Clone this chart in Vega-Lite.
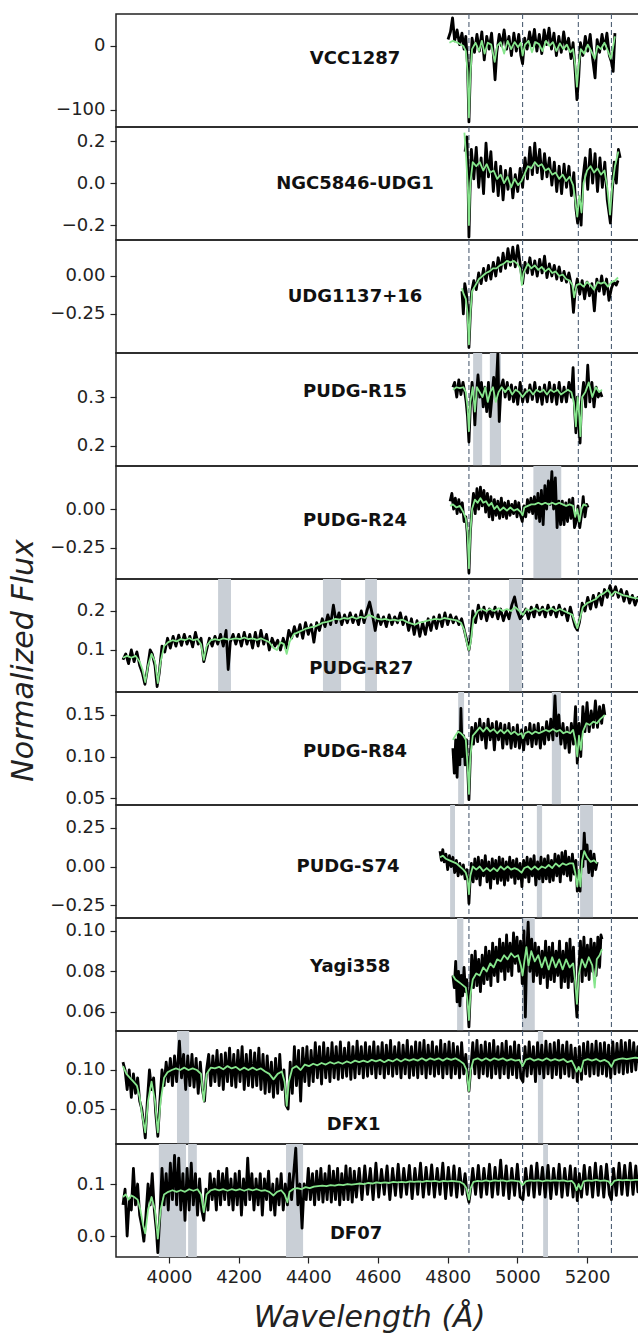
{
"$schema":"https://vega.github.io/schema/vega-lite/v6.json",
"autosize":{"type":"pad"},
"padding":{"left":7,"top":12,"right":-3,"bottom":0},
"background":"white",
"spacing":0,
"bounds":"flush",
"config":{
"view":{"stroke":"#222","strokeWidth":1.5},
"axis":{"domain":false,"grid":false,"ticks":true,"tickColor":"#222","tickSize":6,"tickWidth":1.2,"labelFont":"DejaVu Sans","labelFontSize":18,"labelColor":"#222","labelPadding":5,"labelFlush":false,"labelOverlap":false,"titleFont":"DejaVu Sans","titleFontSize":30,"titleFontWeight":"normal","titleFontStyle":"italic","titleColor":"#222"},
"text":{"font":"DejaVu Sans"}
},
"datasets":{
"lines":[{"w":4861},{"w":5015},{"w":5175},{"w":5270}],
"bands":[{"p":4,"w":4873,"w2":4899},{"p":4,"w":4921,"w2":4953},{"p":5,"w":5046,"w2":5126},{"p":6,"w":4141,"w2":4178},{"p":6,"w":4442,"w2":4494},{"p":6,"w":4563,"w2":4597},{"p":6,"w":4976,"w2":5013},{"p":7,"w":4830,"w2":4847},{"p":7,"w":5099,"w2":5125},{"p":8,"w":4807,"w2":4821},{"p":8,"w":5056,"w2":5071},{"p":8,"w":5180,"w2":5217},{"p":9,"w":4827,"w2":4845},{"p":9,"w":5013,"w2":5050},{"p":10,"w":4023,"w2":4058},{"p":10,"w":5059,"w2":5074},{"p":11,"w":3971,"w2":4049},{"p":11,"w":4055,"w2":4080},{"p":11,"w":4336,"w2":4385},{"p":11,"w":5074,"w2":5088}],
"t1":[{"w":4534,"f":-20,"t":"VCC1287"}],
"t2":[{"w":4534,"f":-0.004,"t":"NGC5846-UDG1"}],
"t3":[{"w":4534,"f":-0.138,"t":"UDG1137+16"}],
"t4":[{"w":4534,"f":0.31,"t":"PUDG-R15"}],
"t5":[{"w":4534,"f":-0.077,"t":"PUDG-R24"}],
"t6":[{"w":4552,"f":0.0525,"t":"PUDG-R27"}],
"t7":[{"w":4534,"f":0.1054,"t":"PUDG-R84"}],
"t8":[{"w":4514,"f":-0.004,"t":"PUDG-S74"}],
"t9":[{"w":4520,"f":0.0822,"t":"Yagi358"}],
"t10":[{"w":4530,"f":0.029,"t":"DFX1"}],
"t11":[{"w":4537,"f":0.003,"t":"DF07"}],
"o1":[{"w":4801,"f":10},{"w":4808,"f":22},{"w":4814,"f":44},{"w":4820,"f":8},{"w":4827,"f":25},{"w":4834,"f":2},{"w":4841,"f":20},{"w":4847,"f":-5},{"w":4852,"f":15},{"w":4857,"f":-30},{"w":4861,"f":-119},{"w":4865,"f":-40},{"w":4870,"f":12},{"w":4877,"f":-10},{"w":4884,"f":18},{"w":4891,"f":-8},{"w":4898,"f":22},{"w":4905,"f":-22},{"w":4912,"f":15},{"w":4919,"f":-5},{"w":4926,"f":20},{"w":4932,"f":-20},{"w":4936,"f":-53},{"w":4941,"f":-10},{"w":4948,"f":18},{"w":4955,"f":0},{"w":4962,"f":25},{"w":4969,"f":-5},{"w":4976,"f":15},{"w":4983,"f":-15},{"w":4990,"f":20},{"w":4997,"f":-8},{"w":5004,"f":18},{"w":5010,"f":-15},{"w":5015,"f":-28},{"w":5021,"f":12},{"w":5028,"f":-5},{"w":5035,"f":22},{"w":5042,"f":0},{"w":5049,"f":26},{"w":5056,"f":-8},{"w":5063,"f":18},{"w":5070,"f":-12},{"w":5077,"f":25},{"w":5084,"f":2},{"w":5091,"f":28},{"w":5098,"f":-5},{"w":5105,"f":20},{"w":5112,"f":-15},{"w":5119,"f":15},{"w":5126,"f":-10},{"w":5133,"f":22},{"w":5140,"f":-5},{"w":5147,"f":12},{"w":5154,"f":-20},{"w":5160,"f":5},{"w":5166,"f":-40},{"w":5171,"f":-84},{"w":5176,"f":-50},{"w":5181,"f":5},{"w":5188,"f":-15},{"w":5195,"f":15},{"w":5202,"f":-8},{"w":5209,"f":18},{"w":5216,"f":-20},{"w":5223,"f":-50},{"w":5229,"f":10},{"w":5236,"f":-10},{"w":5243,"f":18},{"w":5250,"f":-5},{"w":5257,"f":20},{"w":5264,"f":-15},{"w":5270,"f":-25},{"w":5275,"f":-40},{"w":5280,"f":20}],
"g1":[{"w":4805,"f":5},{"w":4815,"f":8},{"w":4825,"f":6},{"w":4835,"f":3},{"w":4845,"f":0},{"w":4852,"f":-8},{"w":4857,"f":-40},{"w":4861,"f":-112},{"w":4865,"f":-45},{"w":4870,"f":-5},{"w":4880,"f":5},{"w":4890,"f":-8},{"w":4898,"f":8},{"w":4906,"f":-12},{"w":4915,"f":5},{"w":4925,"f":2},{"w":4935,"f":-25},{"w":4942,"f":0},{"w":4952,"f":6},{"w":4962,"f":-12},{"w":4972,"f":8},{"w":4982,"f":-5},{"w":4992,"f":6},{"w":5002,"f":-2},{"w":5010,"f":5},{"w":5015,"f":-15},{"w":5022,"f":2},{"w":5032,"f":8},{"w":5042,"f":-10},{"w":5052,"f":6},{"w":5062,"f":3},{"w":5072,"f":-8},{"w":5082,"f":8},{"w":5092,"f":0},{"w":5102,"f":6},{"w":5112,"f":-8},{"w":5122,"f":4},{"w":5132,"f":-5},{"w":5142,"f":2},{"w":5152,"f":-10},{"w":5160,"f":-5},{"w":5166,"f":-30},{"w":5171,"f":-64},{"w":5176,"f":-30},{"w":5182,"f":-5},{"w":5192,"f":-12},{"w":5202,"f":2},{"w":5212,"f":-8},{"w":5222,"f":-20},{"w":5230,"f":0},{"w":5240,"f":-5},{"w":5250,"f":5},{"w":5260,"f":-8},{"w":5268,"f":-20},{"w":5272,"f":-10},{"w":5280,"f":15}],
"o2":[{"w":4850,"f":0.15},{"w":4855,"f":0.22},{"w":4858,"f":0.05},{"w":4861,"f":-0.257},{"w":4864,"f":-0.05},{"w":4868,"f":0.16},{"w":4875,"f":0.02},{"w":4882,"f":0.17},{"w":4889,"f":-0.02},{"w":4896,"f":0.12},{"w":4903,"f":-0.05},{"w":4910,"f":0.19},{"w":4917,"f":0.03},{"w":4924,"f":0.15},{"w":4931,"f":-0.04},{"w":4938,"f":0.1},{"w":4945,"f":-0.06},{"w":4952,"f":0.08},{"w":4959,"f":-0.08},{"w":4966,"f":0.06},{"w":4973,"f":-0.03},{"w":4980,"f":0.07},{"w":4987,"f":-0.07},{"w":4994,"f":0.04},{"w":5001,"f":-0.04},{"w":5008,"f":0.07},{"w":5015,"f":-0.02},{"w":5022,"f":0.12},{"w":5029,"f":0.02},{"w":5036,"f":0.17},{"w":5043,"f":0.04},{"w":5050,"f":0.19},{"w":5057,"f":0.05},{"w":5064,"f":0.16},{"w":5071,"f":0.02},{"w":5078,"f":0.14},{"w":5085,"f":0.03},{"w":5092,"f":0.12},{"w":5099,"f":-0.01},{"w":5106,"f":0.1},{"w":5113,"f":-0.04},{"w":5120,"f":0.08},{"w":5127,"f":-0.05},{"w":5134,"f":0.09},{"w":5141,"f":-0.02},{"w":5148,"f":0.08},{"w":5155,"f":-0.06},{"w":5162,"f":0.05},{"w":5168,"f":-0.12},{"w":5173,"f":-0.19},{"w":5178,"f":-0.08},{"w":5183,"f":-0.2},{"w":5188,"f":0.02},{"w":5195,"f":0.12},{"w":5202,"f":-0.03},{"w":5209,"f":0.16},{"w":5216,"f":0.0},{"w":5223,"f":0.14},{"w":5230,"f":-0.04},{"w":5237,"f":0.12},{"w":5244,"f":-0.02},{"w":5251,"f":0.1},{"w":5258,"f":-0.08},{"w":5263,"f":-0.14},{"w":5267,"f":-0.19},{"w":5272,"f":-0.05},{"w":5278,"f":0.1},{"w":5284,"f":0.0},{"w":5290,"f":0.16},{"w":5295,"f":0.12}],
"g2":[{"w":4848,"f":0.24},{"w":4853,"f":0.12},{"w":4858,"f":-0.02},{"w":4861,"f":-0.2},{"w":4865,"f":0.0},{"w":4872,"f":0.1},{"w":4882,"f":0.08},{"w":4892,"f":0.1},{"w":4902,"f":0.06},{"w":4912,"f":0.09},{"w":4922,"f":0.05},{"w":4932,"f":0.06},{"w":4942,"f":0.02},{"w":4952,"f":0.04},{"w":4962,"f":0.0},{"w":4972,"f":0.03},{"w":4982,"f":-0.02},{"w":4992,"f":0.02},{"w":5002,"f":-0.01},{"w":5012,"f":0.01},{"w":5020,"f":0.04},{"w":5030,"f":0.08},{"w":5040,"f":0.07},{"w":5050,"f":0.1},{"w":5060,"f":0.08},{"w":5070,"f":0.09},{"w":5080,"f":0.06},{"w":5090,"f":0.07},{"w":5100,"f":0.04},{"w":5110,"f":0.05},{"w":5120,"f":0.02},{"w":5130,"f":0.04},{"w":5140,"f":0.01},{"w":5150,"f":0.03},{"w":5160,"f":-0.01},{"w":5166,"f":-0.08},{"w":5172,"f":-0.16},{"w":5178,"f":-0.06},{"w":5184,"f":-0.14},{"w":5190,"f":0.0},{"w":5200,"f":0.06},{"w":5210,"f":0.08},{"w":5220,"f":0.05},{"w":5230,"f":0.07},{"w":5240,"f":0.04},{"w":5250,"f":0.06},{"w":5258,"f":-0.02},{"w":5266,"f":-0.15},{"w":5272,"f":-0.02},{"w":5280,"f":0.08},{"w":5290,"f":0.15}],
"o3":[{"w":4841,"f":-0.1},{"w":4845,"f":-0.25},{"w":4849,"f":-0.05},{"w":4853,"f":-0.1},{"w":4857,"f":-0.2},{"w":4861,"f":-0.47},{"w":4865,"f":-0.25},{"w":4869,"f":-0.1},{"w":4875,"f":-0.03},{"w":4882,"f":-0.09},{"w":4889,"f":0.02},{"w":4896,"f":-0.05},{"w":4903,"f":0.05},{"w":4910,"f":-0.03},{"w":4917,"f":0.07},{"w":4924,"f":-0.02},{"w":4931,"f":0.09},{"w":4938,"f":0.0},{"w":4945,"f":0.12},{"w":4952,"f":0.03},{"w":4959,"f":0.15},{"w":4966,"f":0.05},{"w":4973,"f":0.18},{"w":4980,"f":0.07},{"w":4987,"f":0.19},{"w":4994,"f":0.06},{"w":5001,"f":0.2},{"w":5008,"f":0.08},{"w":5015,"f":-0.05},{"w":5022,"f":0.09},{"w":5029,"f":0.02},{"w":5036,"f":0.12},{"w":5043,"f":0.01},{"w":5050,"f":0.1},{"w":5057,"f":0.0},{"w":5064,"f":0.11},{"w":5071,"f":0.02},{"w":5078,"f":0.13},{"w":5085,"f":-0.01},{"w":5092,"f":0.08},{"w":5099,"f":0.0},{"w":5106,"f":0.07},{"w":5113,"f":-0.02},{"w":5120,"f":0.06},{"w":5127,"f":-0.03},{"w":5134,"f":0.03},{"w":5141,"f":-0.04},{"w":5148,"f":0.02},{"w":5155,"f":-0.06},{"w":5161,"f":-0.24},{"w":5166,"f":-0.1},{"w":5172,"f":-0.02},{"w":5179,"f":-0.12},{"w":5186,"f":-0.03},{"w":5193,"f":-0.15},{"w":5200,"f":-0.04},{"w":5207,"f":-0.13},{"w":5214,"f":-0.05},{"w":5221,"f":-0.23},{"w":5228,"f":-0.02},{"w":5235,"f":-0.1},{"w":5242,"f":0.0},{"w":5249,"f":-0.12},{"w":5256,"f":-0.02},{"w":5263,"f":-0.16},{"w":5270,"f":-0.08},{"w":5277,"f":-0.04},{"w":5284,"f":-0.06},{"w":5289,"f":-0.03}],
"g3":[{"w":4841,"f":-0.08},{"w":4846,"f":-0.12},{"w":4852,"f":-0.15},{"w":4857,"f":-0.25},{"w":4861,"f":-0.45},{"w":4865,"f":-0.25},{"w":4870,"f":-0.1},{"w":4880,"f":-0.06},{"w":4890,"f":-0.02},{"w":4900,"f":0.0},{"w":4910,"f":0.02},{"w":4920,"f":0.03},{"w":4930,"f":0.05},{"w":4940,"f":0.05},{"w":4950,"f":0.07},{"w":4960,"f":0.08},{"w":4970,"f":0.1},{"w":4980,"f":0.09},{"w":4990,"f":0.1},{"w":5000,"f":0.08},{"w":5008,"f":0.05},{"w":5013,"f":-0.06},{"w":5018,"f":0.02},{"w":5030,"f":0.08},{"w":5040,"f":0.05},{"w":5050,"f":0.07},{"w":5060,"f":0.04},{"w":5070,"f":0.06},{"w":5080,"f":0.03},{"w":5090,"f":0.05},{"w":5100,"f":0.02},{"w":5110,"f":0.03},{"w":5120,"f":0.0},{"w":5130,"f":0.01},{"w":5140,"f":-0.02},{"w":5150,"f":-0.03},{"w":5158,"f":-0.06},{"w":5163,"f":-0.14},{"w":5170,"f":-0.06},{"w":5180,"f":-0.05},{"w":5190,"f":-0.07},{"w":5200,"f":-0.04},{"w":5210,"f":-0.06},{"w":5220,"f":-0.09},{"w":5230,"f":-0.04},{"w":5240,"f":-0.05},{"w":5250,"f":-0.04},{"w":5260,"f":-0.07},{"w":5270,"f":-0.04},{"w":5280,"f":-0.03},{"w":5289,"f":-0.01}],
"o4":[{"w":4815,"f":0.32},{"w":4820,"f":0.33},{"w":4826,"f":0.3},{"w":4832,"f":0.335},{"w":4838,"f":0.305},{"w":4844,"f":0.33},{"w":4849,"f":0.31},{"w":4853,"f":0.29},{"w":4857,"f":0.26},{"w":4861,"f":0.208},{"w":4865,"f":0.28},{"w":4870,"f":0.33},{"w":4874,"f":0.3},{"w":4878,"f":0.243},{"w":4882,"f":0.3},{"w":4887,"f":0.345},{"w":4892,"f":0.3},{"w":4897,"f":0.33},{"w":4902,"f":0.28},{"w":4907,"f":0.32},{"w":4912,"f":0.27},{"w":4917,"f":0.33},{"w":4922,"f":0.26},{"w":4927,"f":0.3},{"w":4932,"f":0.34},{"w":4938,"f":0.3},{"w":4944,"f":0.39},{"w":4948,"f":0.25},{"w":4953,"f":0.32},{"w":4959,"f":0.335},{"w":4965,"f":0.3},{"w":4971,"f":0.33},{"w":4977,"f":0.295},{"w":4983,"f":0.325},{"w":4989,"f":0.29},{"w":4995,"f":0.32},{"w":5001,"f":0.285},{"w":5008,"f":0.33},{"w":5015,"f":0.29},{"w":5022,"f":0.315},{"w":5029,"f":0.29},{"w":5036,"f":0.325},{"w":5043,"f":0.295},{"w":5050,"f":0.33},{"w":5057,"f":0.29},{"w":5064,"f":0.32},{"w":5071,"f":0.285},{"w":5078,"f":0.325},{"w":5085,"f":0.29},{"w":5092,"f":0.33},{"w":5099,"f":0.29},{"w":5106,"f":0.325},{"w":5113,"f":0.285},{"w":5120,"f":0.33},{"w":5127,"f":0.29},{"w":5134,"f":0.32},{"w":5141,"f":0.29},{"w":5148,"f":0.33},{"w":5155,"f":0.3},{"w":5160,"f":0.36},{"w":5164,"f":0.28},{"w":5168,"f":0.227},{"w":5172,"f":0.3},{"w":5176,"f":0.25},{"w":5180,"f":0.206},{"w":5184,"f":0.29},{"w":5190,"f":0.33},{"w":5196,"f":0.28},{"w":5202,"f":0.365},{"w":5208,"f":0.29},{"w":5214,"f":0.33},{"w":5220,"f":0.28},{"w":5226,"f":0.32},{"w":5232,"f":0.3},{"w":5238,"f":0.31},{"w":5243,"f":0.3}],
"g4":[{"w":4815,"f":0.315},{"w":4825,"f":0.32},{"w":4835,"f":0.318},{"w":4845,"f":0.32},{"w":4852,"f":0.31},{"w":4857,"f":0.28},{"w":4861,"f":0.23},{"w":4865,"f":0.29},{"w":4872,"f":0.32},{"w":4878,"f":0.27},{"w":4884,"f":0.32},{"w":4892,"f":0.31},{"w":4900,"f":0.3},{"w":4908,"f":0.32},{"w":4915,"f":0.29},{"w":4922,"f":0.31},{"w":4930,"f":0.32},{"w":4938,"f":0.29},{"w":4946,"f":0.31},{"w":4955,"f":0.32},{"w":4965,"f":0.31},{"w":4975,"f":0.32},{"w":4985,"f":0.305},{"w":4995,"f":0.315},{"w":5005,"f":0.31},{"w":5015,"f":0.3},{"w":5025,"f":0.31},{"w":5035,"f":0.315},{"w":5045,"f":0.305},{"w":5055,"f":0.315},{"w":5065,"f":0.31},{"w":5075,"f":0.315},{"w":5085,"f":0.305},{"w":5095,"f":0.315},{"w":5105,"f":0.31},{"w":5115,"f":0.315},{"w":5125,"f":0.305},{"w":5135,"f":0.31},{"w":5145,"f":0.315},{"w":5155,"f":0.31},{"w":5162,"f":0.29},{"w":5168,"f":0.24},{"w":5173,"f":0.3},{"w":5178,"f":0.26},{"w":5181,"f":0.22},{"w":5186,"f":0.3},{"w":5195,"f":0.31},{"w":5205,"f":0.33},{"w":5215,"f":0.3},{"w":5225,"f":0.32},{"w":5235,"f":0.31},{"w":5243,"f":0.315}],
"o5":[{"w":4807,"f":0.05},{"w":4812,"f":0.1},{"w":4817,"f":0.0},{"w":4822,"f":0.07},{"w":4827,"f":-0.03},{"w":4832,"f":0.06},{"w":4837,"f":-0.02},{"w":4842,"f":0.04},{"w":4847,"f":-0.08},{"w":4852,"f":-0.05},{"w":4856,"f":-0.15},{"w":4861,"f":-0.41},{"w":4865,"f":-0.15},{"w":4869,"f":-0.02},{"w":4874,"f":0.1},{"w":4879,"f":-0.03},{"w":4884,"f":0.13},{"w":4889,"f":0.0},{"w":4894,"f":0.14},{"w":4899,"f":0.02},{"w":4904,"f":0.12},{"w":4909,"f":-0.02},{"w":4914,"f":0.1},{"w":4919,"f":-0.05},{"w":4924,"f":0.08},{"w":4929,"f":-0.07},{"w":4934,"f":0.06},{"w":4939,"f":-0.04},{"w":4944,"f":0.05},{"w":4949,"f":-0.06},{"w":4954,"f":0.07},{"w":4959,"f":-0.05},{"w":4964,"f":0.04},{"w":4969,"f":-0.06},{"w":4974,"f":0.05},{"w":4979,"f":-0.04},{"w":4984,"f":0.03},{"w":4989,"f":-0.03},{"w":4994,"f":0.05},{"w":4999,"f":-0.05},{"w":5004,"f":0.04},{"w":5009,"f":-0.04},{"w":5014,"f":-0.08},{"w":5019,"f":0.02},{"w":5024,"f":-0.05},{"w":5029,"f":0.06},{"w":5034,"f":-0.02},{"w":5039,"f":0.07},{"w":5044,"f":-0.03},{"w":5049,"f":0.08},{"w":5054,"f":-0.06},{"w":5059,"f":0.1},{"w":5064,"f":-0.08},{"w":5069,"f":0.12},{"w":5074,"f":-0.1},{"w":5079,"f":0.15},{"w":5084,"f":0.0},{"w":5089,"f":0.18},{"w":5094,"f":0.03},{"w":5099,"f":0.24},{"w":5104,"f":0.0},{"w":5109,"f":0.2},{"w":5114,"f":-0.12},{"w":5119,"f":0.05},{"w":5124,"f":-0.1},{"w":5129,"f":0.05},{"w":5134,"f":-0.1},{"w":5139,"f":0.04},{"w":5144,"f":-0.08},{"w":5149,"f":0.06},{"w":5154,"f":-0.06},{"w":5159,"f":0.07},{"w":5164,"f":-0.12},{"w":5169,"f":-0.08},{"w":5174,"f":0.02},{"w":5179,"f":-0.12},{"w":5184,"f":-0.04},{"w":5189,"f":0.08},{"w":5194,"f":-0.05},{"w":5199,"f":0.03},{"w":5203,"f":0.01}],
"g5":[{"w":4807,"f":0.02},{"w":4815,"f":0.03},{"w":4825,"f":0.01},{"w":4835,"f":0.02},{"w":4845,"f":-0.02},{"w":4852,"f":-0.06},{"w":4857,"f":-0.15},{"w":4861,"f":-0.38},{"w":4865,"f":-0.15},{"w":4870,"f":0.0},{"w":4878,"f":0.06},{"w":4886,"f":0.04},{"w":4894,"f":0.07},{"w":4902,"f":0.04},{"w":4910,"f":0.05},{"w":4918,"f":0.02},{"w":4926,"f":0.04},{"w":4934,"f":0.0},{"w":4942,"f":0.02},{"w":4950,"f":-0.01},{"w":4960,"f":0.01},{"w":4970,"f":-0.01},{"w":4980,"f":0.01},{"w":4990,"f":-0.01},{"w":5000,"f":0.0},{"w":5010,"f":-0.02},{"w":5015,"f":-0.04},{"w":5020,"f":0.01},{"w":5030,"f":0.02},{"w":5040,"f":0.03},{"w":5050,"f":0.03},{"w":5060,"f":0.04},{"w":5070,"f":0.03},{"w":5080,"f":0.04},{"w":5090,"f":0.03},{"w":5100,"f":0.04},{"w":5110,"f":0.03},{"w":5120,"f":0.04},{"w":5130,"f":0.03},{"w":5140,"f":0.02},{"w":5150,"f":0.03},{"w":5160,"f":0.02},{"w":5166,"f":-0.05},{"w":5172,"f":0.0},{"w":5178,"f":-0.08},{"w":5184,"f":0.0},{"w":5190,"f":0.03},{"w":5200,"f":0.02}],
"o6":[{"w":3868,"f":0.075},{"w":3876,"f":0.09},{"w":3884,"f":0.065},{"w":3892,"f":0.1},{"w":3900,"f":0.07},{"w":3908,"f":0.095},{"w":3916,"f":0.06},{"w":3924,"f":0.04},{"w":3931,"f":0.012},{"w":3938,"f":0.05},{"w":3946,"f":0.1},{"w":3952,"f":0.09},{"w":3960,"f":0.06},{"w":3966,"f":0.006},{"w":3972,"f":0.04},{"w":3980,"f":0.11},{"w":3988,"f":0.095},{"w":3996,"f":0.13},{"w":4004,"f":0.105},{"w":4012,"f":0.135},{"w":4020,"f":0.11},{"w":4028,"f":0.138},{"w":4036,"f":0.112},{"w":4044,"f":0.14},{"w":4052,"f":0.115},{"w":4060,"f":0.135},{"w":4068,"f":0.108},{"w":4076,"f":0.145},{"w":4084,"f":0.115},{"w":4092,"f":0.13},{"w":4100,"f":0.07},{"w":4108,"f":0.1},{"w":4116,"f":0.13},{"w":4124,"f":0.11},{"w":4132,"f":0.135},{"w":4140,"f":0.115},{"w":4148,"f":0.14},{"w":4156,"f":0.11},{"w":4164,"f":0.15},{"w":4170,"f":0.05},{"w":4176,"f":0.12},{"w":4184,"f":0.14},{"w":4192,"f":0.115},{"w":4200,"f":0.14},{"w":4208,"f":0.11},{"w":4216,"f":0.145},{"w":4224,"f":0.115},{"w":4232,"f":0.14},{"w":4240,"f":0.105},{"w":4248,"f":0.145},{"w":4256,"f":0.11},{"w":4264,"f":0.15},{"w":4272,"f":0.115},{"w":4280,"f":0.14},{"w":4288,"f":0.1},{"w":4296,"f":0.13},{"w":4304,"f":0.11},{"w":4312,"f":0.125},{"w":4320,"f":0.1},{"w":4328,"f":0.13},{"w":4336,"f":0.105},{"w":4344,"f":0.15},{"w":4352,"f":0.13},{"w":4360,"f":0.16},{"w":4368,"f":0.135},{"w":4376,"f":0.165},{"w":4384,"f":0.13},{"w":4392,"f":0.17},{"w":4400,"f":0.14},{"w":4408,"f":0.165},{"w":4416,"f":0.12},{"w":4424,"f":0.17},{"w":4432,"f":0.15},{"w":4440,"f":0.18},{"w":4448,"f":0.16},{"w":4456,"f":0.19},{"w":4464,"f":0.165},{"w":4472,"f":0.215},{"w":4480,"f":0.17},{"w":4488,"f":0.195},{"w":4496,"f":0.165},{"w":4504,"f":0.19},{"w":4512,"f":0.17},{"w":4520,"f":0.195},{"w":4528,"f":0.17},{"w":4536,"f":0.19},{"w":4544,"f":0.165},{"w":4552,"f":0.2},{"w":4560,"f":0.17},{"w":4568,"f":0.2},{"w":4576,"f":0.223},{"w":4584,"f":0.19},{"w":4592,"f":0.15},{"w":4600,"f":0.19},{"w":4608,"f":0.165},{"w":4616,"f":0.185},{"w":4624,"f":0.16},{"w":4632,"f":0.19},{"w":4640,"f":0.165},{"w":4648,"f":0.185},{"w":4656,"f":0.17},{"w":4664,"f":0.195},{"w":4672,"f":0.165},{"w":4680,"f":0.185},{"w":4688,"f":0.15},{"w":4696,"f":0.18},{"w":4704,"f":0.14},{"w":4712,"f":0.175},{"w":4720,"f":0.135},{"w":4728,"f":0.17},{"w":4736,"f":0.14},{"w":4744,"f":0.18},{"w":4752,"f":0.15},{"w":4760,"f":0.185},{"w":4768,"f":0.155},{"w":4776,"f":0.19},{"w":4784,"f":0.16},{"w":4792,"f":0.195},{"w":4800,"f":0.165},{"w":4808,"f":0.19},{"w":4816,"f":0.17},{"w":4824,"f":0.185},{"w":4832,"f":0.165},{"w":4840,"f":0.18},{"w":4848,"f":0.15},{"w":4856,"f":0.12},{"w":4861,"f":0.1},{"w":4866,"f":0.13},{"w":4872,"f":0.2},{"w":4880,"f":0.17},{"w":4888,"f":0.215},{"w":4896,"f":0.18},{"w":4904,"f":0.21},{"w":4912,"f":0.175},{"w":4920,"f":0.205},{"w":4928,"f":0.185},{"w":4936,"f":0.21},{"w":4944,"f":0.18},{"w":4952,"f":0.205},{"w":4960,"f":0.175},{"w":4968,"f":0.2},{"w":4976,"f":0.18},{"w":4984,"f":0.215},{"w":4992,"f":0.236},{"w":5000,"f":0.2},{"w":5008,"f":0.18},{"w":5016,"f":0.19},{"w":5024,"f":0.205},{"w":5032,"f":0.18},{"w":5040,"f":0.21},{"w":5048,"f":0.185},{"w":5056,"f":0.215},{"w":5064,"f":0.19},{"w":5072,"f":0.21},{"w":5080,"f":0.185},{"w":5088,"f":0.215},{"w":5096,"f":0.19},{"w":5104,"f":0.21},{"w":5112,"f":0.185},{"w":5120,"f":0.215},{"w":5128,"f":0.19},{"w":5136,"f":0.205},{"w":5144,"f":0.175},{"w":5152,"f":0.21},{"w":5160,"f":0.18},{"w":5166,"f":0.16},{"w":5172,"f":0.151},{"w":5178,"f":0.17},{"w":5186,"f":0.22},{"w":5194,"f":0.2},{"w":5202,"f":0.235},{"w":5210,"f":0.205},{"w":5218,"f":0.24},{"w":5226,"f":0.21},{"w":5234,"f":0.245},{"w":5242,"f":0.215},{"w":5250,"f":0.255},{"w":5258,"f":0.235},{"w":5266,"f":0.265},{"w":5274,"f":0.24},{"w":5282,"f":0.262},{"w":5290,"f":0.235},{"w":5298,"f":0.255},{"w":5306,"f":0.225},{"w":5314,"f":0.25},{"w":5322,"f":0.22},{"w":5330,"f":0.24},{"w":5338,"f":0.215},{"w":5346,"f":0.235},{"w":5352,"f":0.22}],
"g6":[{"w":3868,"f":0.08},{"w":3880,"f":0.085},{"w":3892,"f":0.08},{"w":3904,"f":0.085},{"w":3916,"f":0.07},{"w":3924,"f":0.05},{"w":3932,"f":0.018},{"w":3940,"f":0.06},{"w":3950,"f":0.09},{"w":3960,"f":0.07},{"w":3968,"f":0.015},{"w":3976,"f":0.07},{"w":3986,"f":0.11},{"w":3998,"f":0.12},{"w":4010,"f":0.125},{"w":4022,"f":0.122},{"w":4034,"f":0.128},{"w":4046,"f":0.125},{"w":4058,"f":0.13},{"w":4070,"f":0.125},{"w":4082,"f":0.128},{"w":4092,"f":0.115},{"w":4100,"f":0.075},{"w":4108,"f":0.11},{"w":4120,"f":0.125},{"w":4132,"f":0.128},{"w":4144,"f":0.125},{"w":4156,"f":0.13},{"w":4168,"f":0.127},{"w":4180,"f":0.128},{"w":4192,"f":0.13},{"w":4204,"f":0.128},{"w":4216,"f":0.132},{"w":4228,"f":0.128},{"w":4240,"f":0.13},{"w":4252,"f":0.126},{"w":4264,"f":0.13},{"w":4276,"f":0.125},{"w":4288,"f":0.12},{"w":4300,"f":0.105},{"w":4310,"f":0.1},{"w":4320,"f":0.12},{"w":4330,"f":0.115},{"w":4338,"f":0.09},{"w":4346,"f":0.12},{"w":4358,"f":0.14},{"w":4370,"f":0.145},{"w":4382,"f":0.15},{"w":4394,"f":0.155},{"w":4406,"f":0.158},{"w":4418,"f":0.16},{"w":4430,"f":0.165},{"w":4442,"f":0.17},{"w":4454,"f":0.172},{"w":4466,"f":0.175},{"w":4478,"f":0.18},{"w":4490,"f":0.178},{"w":4502,"f":0.182},{"w":4514,"f":0.18},{"w":4526,"f":0.185},{"w":4538,"f":0.18},{"w":4550,"f":0.185},{"w":4562,"f":0.182},{"w":4574,"f":0.19},{"w":4586,"f":0.185},{"w":4598,"f":0.18},{"w":4610,"f":0.178},{"w":4622,"f":0.18},{"w":4634,"f":0.176},{"w":4646,"f":0.178},{"w":4658,"f":0.175},{"w":4670,"f":0.178},{"w":4682,"f":0.172},{"w":4694,"f":0.168},{"w":4706,"f":0.165},{"w":4718,"f":0.17},{"w":4730,"f":0.172},{"w":4742,"f":0.175},{"w":4754,"f":0.178},{"w":4766,"f":0.18},{"w":4778,"f":0.178},{"w":4790,"f":0.182},{"w":4802,"f":0.18},{"w":4814,"f":0.178},{"w":4826,"f":0.176},{"w":4838,"f":0.17},{"w":4848,"f":0.15},{"w":4856,"f":0.115},{"w":4861,"f":0.1},{"w":4866,"f":0.12},{"w":4874,"f":0.18},{"w":4886,"f":0.2},{"w":4898,"f":0.205},{"w":4910,"f":0.2},{"w":4922,"f":0.205},{"w":4934,"f":0.2},{"w":4946,"f":0.207},{"w":4958,"f":0.2},{"w":4970,"f":0.205},{"w":4982,"f":0.2},{"w":4994,"f":0.21},{"w":5006,"f":0.2},{"w":5016,"f":0.19},{"w":5026,"f":0.205},{"w":5038,"f":0.2},{"w":5050,"f":0.207},{"w":5062,"f":0.2},{"w":5074,"f":0.205},{"w":5086,"f":0.2},{"w":5098,"f":0.207},{"w":5110,"f":0.2},{"w":5122,"f":0.205},{"w":5134,"f":0.2},{"w":5146,"f":0.195},{"w":5158,"f":0.19},{"w":5166,"f":0.17},{"w":5172,"f":0.156},{"w":5178,"f":0.175},{"w":5188,"f":0.21},{"w":5200,"f":0.22},{"w":5212,"f":0.225},{"w":5224,"f":0.23},{"w":5236,"f":0.24},{"w":5248,"f":0.245},{"w":5260,"f":0.254},{"w":5270,"f":0.24},{"w":5280,"f":0.25},{"w":5292,"f":0.245},{"w":5304,"f":0.24},{"w":5316,"f":0.238},{"w":5328,"f":0.235},{"w":5340,"f":0.233},{"w":5352,"f":0.232}],
"o7":[{"w":4815,"f":0.11},{"w":4819,"f":0.08},{"w":4823,"f":0.12},{"w":4827,"f":0.075},{"w":4831,"f":0.13},{"w":4835,"f":0.09},{"w":4838,"f":0.158},{"w":4842,"f":0.1},{"w":4846,"f":0.125},{"w":4850,"f":0.09},{"w":4854,"f":0.12},{"w":4858,"f":0.08},{"w":4861,"f":0.048},{"w":4865,"f":0.1},{"w":4869,"f":0.135},{"w":4874,"f":0.115},{"w":4880,"f":0.14},{"w":4886,"f":0.118},{"w":4892,"f":0.145},{"w":4898,"f":0.12},{"w":4904,"f":0.14},{"w":4910,"f":0.11},{"w":4916,"f":0.145},{"w":4922,"f":0.12},{"w":4928,"f":0.14},{"w":4934,"f":0.108},{"w":4940,"f":0.142},{"w":4946,"f":0.12},{"w":4952,"f":0.14},{"w":4958,"f":0.11},{"w":4964,"f":0.138},{"w":4970,"f":0.115},{"w":4976,"f":0.14},{"w":4982,"f":0.11},{"w":4988,"f":0.135},{"w":4994,"f":0.112},{"w":5000,"f":0.138},{"w":5006,"f":0.11},{"w":5012,"f":0.132},{"w":5018,"f":0.108},{"w":5024,"f":0.135},{"w":5030,"f":0.115},{"w":5036,"f":0.14},{"w":5042,"f":0.112},{"w":5048,"f":0.138},{"w":5054,"f":0.115},{"w":5060,"f":0.14},{"w":5066,"f":0.11},{"w":5072,"f":0.135},{"w":5078,"f":0.115},{"w":5084,"f":0.142},{"w":5090,"f":0.12},{"w":5096,"f":0.145},{"w":5102,"f":0.12},{"w":5108,"f":0.173},{"w":5113,"f":0.125},{"w":5119,"f":0.15},{"w":5125,"f":0.115},{"w":5131,"f":0.14},{"w":5137,"f":0.11},{"w":5143,"f":0.135},{"w":5149,"f":0.105},{"w":5155,"f":0.14},{"w":5161,"f":0.115},{"w":5167,"f":0.16},{"w":5172,"f":0.092},{"w":5177,"f":0.14},{"w":5182,"f":0.1},{"w":5188,"f":0.16},{"w":5194,"f":0.13},{"w":5200,"f":0.165},{"w":5206,"f":0.13},{"w":5212,"f":0.155},{"w":5218,"f":0.135},{"w":5224,"f":0.167},{"w":5230,"f":0.135},{"w":5236,"f":0.16},{"w":5242,"f":0.14},{"w":5247,"f":0.162},{"w":5251,"f":0.15}],
"g7":[{"w":4815,"f":0.12},{"w":4822,"f":0.125},{"w":4830,"f":0.13},{"w":4838,"f":0.128},{"w":4845,"f":0.125},{"w":4852,"f":0.12},{"w":4857,"f":0.09},{"w":4861,"f":0.055},{"w":4865,"f":0.1},{"w":4872,"f":0.125},{"w":4882,"f":0.13},{"w":4892,"f":0.135},{"w":4902,"f":0.13},{"w":4912,"f":0.135},{"w":4922,"f":0.13},{"w":4932,"f":0.133},{"w":4942,"f":0.128},{"w":4952,"f":0.132},{"w":4962,"f":0.128},{"w":4972,"f":0.132},{"w":4982,"f":0.127},{"w":4992,"f":0.13},{"w":5002,"f":0.126},{"w":5012,"f":0.128},{"w":5016,"f":0.122},{"w":5022,"f":0.128},{"w":5032,"f":0.13},{"w":5042,"f":0.127},{"w":5052,"f":0.13},{"w":5062,"f":0.128},{"w":5072,"f":0.13},{"w":5082,"f":0.132},{"w":5092,"f":0.13},{"w":5102,"f":0.133},{"w":5112,"f":0.13},{"w":5122,"f":0.132},{"w":5132,"f":0.128},{"w":5142,"f":0.13},{"w":5152,"f":0.128},{"w":5160,"f":0.132},{"w":5166,"f":0.12},{"w":5172,"f":0.1},{"w":5177,"f":0.125},{"w":5182,"f":0.108},{"w":5188,"f":0.13},{"w":5198,"f":0.14},{"w":5208,"f":0.138},{"w":5218,"f":0.142},{"w":5228,"f":0.14},{"w":5238,"f":0.145},{"w":5246,"f":0.148},{"w":5251,"f":0.15}],
"o8":[{"w":4778,"f":0.1},{"w":4782,"f":0.04},{"w":4786,"f":0.11},{"w":4790,"f":0.03},{"w":4795,"f":0.08},{"w":4800,"f":-0.02},{"w":4805,"f":0.07},{"w":4810,"f":0.0},{"w":4815,"f":0.06},{"w":4820,"f":-0.04},{"w":4825,"f":0.04},{"w":4830,"f":-0.06},{"w":4835,"f":0.02},{"w":4840,"f":-0.05},{"w":4845,"f":0.01},{"w":4850,"f":-0.08},{"w":4855,"f":-0.02},{"w":4858,"f":-0.1},{"w":4861,"f":-0.24},{"w":4864,"f":-0.1},{"w":4868,"f":0.02},{"w":4873,"f":-0.1},{"w":4878,"f":0.05},{"w":4883,"f":-0.08},{"w":4888,"f":0.06},{"w":4893,"f":-0.12},{"w":4898,"f":0.04},{"w":4903,"f":-0.06},{"w":4908,"f":0.07},{"w":4913,"f":-0.1},{"w":4918,"f":0.03},{"w":4923,"f":-0.14},{"w":4928,"f":0.05},{"w":4933,"f":-0.08},{"w":4938,"f":0.04},{"w":4943,"f":-0.11},{"w":4948,"f":0.06},{"w":4953,"f":-0.09},{"w":4958,"f":0.05},{"w":4963,"f":-0.12},{"w":4968,"f":0.03},{"w":4973,"f":-0.09},{"w":4978,"f":0.06},{"w":4983,"f":-0.07},{"w":4988,"f":0.04},{"w":4993,"f":-0.11},{"w":4998,"f":0.05},{"w":5003,"f":-0.08},{"w":5008,"f":0.02},{"w":5013,"f":-0.13},{"w":5018,"f":0.04},{"w":5023,"f":-0.07},{"w":5028,"f":0.06},{"w":5033,"f":-0.1},{"w":5038,"f":0.05},{"w":5043,"f":-0.06},{"w":5048,"f":0.07},{"w":5053,"f":-0.12},{"w":5058,"f":0.03},{"w":5063,"f":-0.08},{"w":5068,"f":0.06},{"w":5073,"f":-0.1},{"w":5078,"f":0.05},{"w":5083,"f":-0.08},{"w":5088,"f":0.07},{"w":5093,"f":-0.1},{"w":5098,"f":0.04},{"w":5103,"f":-0.09},{"w":5108,"f":0.08},{"w":5113,"f":-0.06},{"w":5118,"f":0.07},{"w":5123,"f":-0.1},{"w":5128,"f":0.09},{"w":5133,"f":-0.05},{"w":5138,"f":0.1},{"w":5143,"f":-0.06},{"w":5148,"f":0.06},{"w":5153,"f":-0.09},{"w":5158,"f":0.08},{"w":5163,"f":-0.05},{"w":5168,"f":0.04},{"w":5172,"f":-0.16},{"w":5176,"f":-0.05},{"w":5180,"f":-0.16},{"w":5184,"f":0.1},{"w":5188,"f":0.0},{"w":5192,"f":0.217},{"w":5196,"f":0.05},{"w":5200,"f":0.14},{"w":5205,"f":-0.04},{"w":5210,"f":0.1},{"w":5215,"f":-0.06},{"w":5220,"f":0.08},{"w":5225,"f":-0.02},{"w":5229,"f":0.03}],
"g8":[{"w":4778,"f":0.06},{"w":4786,"f":0.07},{"w":4795,"f":0.05},{"w":4805,"f":0.04},{"w":4815,"f":0.03},{"w":4825,"f":0.02},{"w":4835,"f":0.0},{"w":4845,"f":-0.02},{"w":4852,"f":-0.04},{"w":4857,"f":-0.08},{"w":4861,"f":-0.18},{"w":4865,"f":-0.06},{"w":4872,"f":0.0},{"w":4882,"f":-0.02},{"w":4892,"f":0.0},{"w":4902,"f":-0.03},{"w":4912,"f":-0.01},{"w":4922,"f":-0.03},{"w":4932,"f":-0.01},{"w":4942,"f":-0.03},{"w":4952,"f":0.0},{"w":4962,"f":-0.02},{"w":4972,"f":0.0},{"w":4982,"f":-0.02},{"w":4992,"f":-0.01},{"w":5002,"f":-0.02},{"w":5012,"f":-0.04},{"w":5020,"f":-0.01},{"w":5030,"f":0.0},{"w":5040,"f":-0.02},{"w":5050,"f":0.0},{"w":5060,"f":-0.02},{"w":5070,"f":0.0},{"w":5080,"f":-0.01},{"w":5090,"f":0.01},{"w":5100,"f":-0.01},{"w":5110,"f":0.02},{"w":5120,"f":0.0},{"w":5130,"f":0.02},{"w":5140,"f":0.01},{"w":5150,"f":0.02},{"w":5160,"f":0.02},{"w":5166,"f":-0.04},{"w":5172,"f":-0.13},{"w":5177,"f":-0.02},{"w":5181,"f":-0.13},{"w":5186,"f":0.04},{"w":5192,"f":0.1},{"w":5200,"f":0.06},{"w":5210,"f":0.03},{"w":5220,"f":0.04},{"w":5229,"f":0.02}],
"o9":[{"w":4815,"f":0.078},{"w":4819,"f":0.072},{"w":4823,"f":0.085},{"w":4827,"f":0.065},{"w":4831,"f":0.08},{"w":4835,"f":0.063},{"w":4839,"f":0.078},{"w":4843,"f":0.068},{"w":4847,"f":0.082},{"w":4851,"f":0.07},{"w":4855,"f":0.076},{"w":4858,"f":0.062},{"w":4861,"f":0.0526},{"w":4865,"f":0.07},{"w":4869,"f":0.088},{"w":4874,"f":0.072},{"w":4879,"f":0.09},{"w":4884,"f":0.073},{"w":4889,"f":0.086},{"w":4894,"f":0.07},{"w":4899,"f":0.088},{"w":4904,"f":0.074},{"w":4909,"f":0.092},{"w":4914,"f":0.076},{"w":4919,"f":0.09},{"w":4924,"f":0.073},{"w":4929,"f":0.094},{"w":4934,"f":0.078},{"w":4939,"f":0.092},{"w":4944,"f":0.075},{"w":4949,"f":0.096},{"w":4954,"f":0.08},{"w":4959,"f":0.094},{"w":4964,"f":0.076},{"w":4969,"f":0.098},{"w":4974,"f":0.08},{"w":4979,"f":0.094},{"w":4984,"f":0.078},{"w":4989,"f":0.099},{"w":4994,"f":0.084},{"w":4999,"f":0.097},{"w":5004,"f":0.08},{"w":5009,"f":0.095},{"w":5014,"f":0.074},{"w":5019,"f":0.1},{"w":5023,"f":0.0575},{"w":5027,"f":0.09},{"w":5031,"f":0.1044},{"w":5036,"f":0.08},{"w":5041,"f":0.096},{"w":5046,"f":0.075},{"w":5051,"f":0.094},{"w":5056,"f":0.078},{"w":5061,"f":0.092},{"w":5066,"f":0.074},{"w":5071,"f":0.09},{"w":5076,"f":0.077},{"w":5081,"f":0.095},{"w":5086,"f":0.072},{"w":5091,"f":0.092},{"w":5096,"f":0.076},{"w":5101,"f":0.094},{"w":5106,"f":0.075},{"w":5111,"f":0.09},{"w":5116,"f":0.078},{"w":5121,"f":0.095},{"w":5126,"f":0.072},{"w":5131,"f":0.09},{"w":5136,"f":0.075},{"w":5141,"f":0.094},{"w":5146,"f":0.072},{"w":5151,"f":0.096},{"w":5156,"f":0.075},{"w":5161,"f":0.092},{"w":5166,"f":0.07},{"w":5171,"f":0.0575},{"w":5176,"f":0.08},{"w":5181,"f":0.095},{"w":5186,"f":0.075},{"w":5191,"f":0.097},{"w":5196,"f":0.078},{"w":5201,"f":0.093},{"w":5206,"f":0.076},{"w":5211,"f":0.096},{"w":5216,"f":0.08},{"w":5221,"f":0.094},{"w":5226,"f":0.078},{"w":5231,"f":0.097},{"w":5236,"f":0.082},{"w":5240,"f":0.098},{"w":5243,"f":0.096}],
"g9":[{"w":4815,"f":0.078},{"w":4822,"f":0.076},{"w":4830,"f":0.075},{"w":4838,"f":0.074},{"w":4845,"f":0.073},{"w":4852,"f":0.072},{"w":4857,"f":0.065},{"w":4861,"f":0.056},{"w":4865,"f":0.068},{"w":4872,"f":0.076},{"w":4882,"f":0.079},{"w":4892,"f":0.078},{"w":4902,"f":0.082},{"w":4912,"f":0.08},{"w":4922,"f":0.084},{"w":4932,"f":0.082},{"w":4942,"f":0.086},{"w":4952,"f":0.085},{"w":4962,"f":0.088},{"w":4972,"f":0.086},{"w":4982,"f":0.089},{"w":4992,"f":0.087},{"w":5002,"f":0.088},{"w":5010,"f":0.083},{"w":5015,"f":0.078},{"w":5020,"f":0.085},{"w":5026,"f":0.092},{"w":5032,"f":0.083},{"w":5040,"f":0.09},{"w":5050,"f":0.085},{"w":5060,"f":0.088},{"w":5070,"f":0.082},{"w":5080,"f":0.087},{"w":5090,"f":0.081},{"w":5100,"f":0.087},{"w":5110,"f":0.082},{"w":5120,"f":0.086},{"w":5130,"f":0.081},{"w":5140,"f":0.086},{"w":5150,"f":0.082},{"w":5160,"f":0.084},{"w":5166,"f":0.075},{"w":5171,"f":0.064},{"w":5176,"f":0.078},{"w":5185,"f":0.086},{"w":5195,"f":0.082},{"w":5205,"f":0.087},{"w":5215,"f":0.083},{"w":5222,"f":0.072},{"w":5228,"f":0.086},{"w":5236,"f":0.088},{"w":5243,"f":0.091}],
"o10":[{"w":3868,"f":0.11},{"w":3874,"f":0.1},{"w":3880,"f":0.075},{"w":3886,"f":0.1},{"w":3892,"f":0.065},{"w":3898,"f":0.095},{"w":3904,"f":0.07},{"w":3910,"f":0.09},{"w":3916,"f":0.06},{"w":3922,"f":0.05},{"w":3928,"f":0.03},{"w":3932,"f":0.013},{"w":3938,"f":0.06},{"w":3944,"f":0.1},{"w":3950,"f":0.075},{"w":3956,"f":0.09},{"w":3962,"f":0.045},{"w":3968,"f":0.015},{"w":3974,"f":0.06},{"w":3980,"f":0.1},{"w":3986,"f":0.08},{"w":3992,"f":0.11},{"w":3998,"f":0.085},{"w":4004,"f":0.115},{"w":4010,"f":0.08},{"w":4016,"f":0.118},{"w":4022,"f":0.085},{"w":4030,"f":0.137},{"w":4036,"f":0.09},{"w":4042,"f":0.12},{"w":4048,"f":0.075},{"w":4054,"f":0.118},{"w":4060,"f":0.08},{"w":4066,"f":0.12},{"w":4072,"f":0.078},{"w":4078,"f":0.115},{"w":4084,"f":0.07},{"w":4090,"f":0.11},{"w":4096,"f":0.075},{"w":4102,"f":0.06},{"w":4108,"f":0.1},{"w":4114,"f":0.12},{"w":4120,"f":0.08},{"w":4126,"f":0.118},{"w":4132,"f":0.085},{"w":4138,"f":0.125},{"w":4144,"f":0.08},{"w":4150,"f":0.12},{"w":4156,"f":0.075},{"w":4162,"f":0.122},{"w":4168,"f":0.085},{"w":4174,"f":0.128},{"w":4180,"f":0.08},{"w":4186,"f":0.12},{"w":4192,"f":0.078},{"w":4198,"f":0.125},{"w":4204,"f":0.085},{"w":4210,"f":0.13},{"w":4216,"f":0.075},{"w":4222,"f":0.12},{"w":4228,"f":0.08},{"w":4234,"f":0.125},{"w":4240,"f":0.078},{"w":4246,"f":0.122},{"w":4252,"f":0.08},{"w":4258,"f":0.128},{"w":4264,"f":0.075},{"w":4270,"f":0.12},{"w":4276,"f":0.07},{"w":4282,"f":0.118},{"w":4288,"f":0.072},{"w":4294,"f":0.11},{"w":4300,"f":0.065},{"w":4306,"f":0.115},{"w":4312,"f":0.07},{"w":4318,"f":0.12},{"w":4324,"f":0.075},{"w":4330,"f":0.1},{"w":4336,"f":0.055},{"w":4342,"f":0.05},{"w":4348,"f":0.11},{"w":4354,"f":0.07},{"w":4360,"f":0.13},{"w":4366,"f":0.08},{"w":4372,"f":0.125},{"w":4378,"f":0.06},{"w":4384,"f":0.128},{"w":4390,"f":0.085},{"w":4396,"f":0.13},{"w":4402,"f":0.08},{"w":4408,"f":0.125},{"w":4414,"f":0.085},{"w":4420,"f":0.135},{"w":4426,"f":0.09},{"w":4432,"f":0.13},{"w":4438,"f":0.082},{"w":4444,"f":0.135},{"w":4450,"f":0.09},{"w":4456,"f":0.128},{"w":4462,"f":0.085},{"w":4468,"f":0.135},{"w":4474,"f":0.09},{"w":4480,"f":0.13},{"w":4486,"f":0.088},{"w":4492,"f":0.136},{"w":4498,"f":0.09},{"w":4504,"f":0.128},{"w":4510,"f":0.092},{"w":4516,"f":0.135},{"w":4522,"f":0.088},{"w":4528,"f":0.13},{"w":4534,"f":0.09},{"w":4540,"f":0.137},{"w":4546,"f":0.095},{"w":4552,"f":0.13},{"w":4558,"f":0.09},{"w":4564,"f":0.135},{"w":4570,"f":0.092},{"w":4576,"f":0.13},{"w":4582,"f":0.095},{"w":4588,"f":0.136},{"w":4594,"f":0.09},{"w":4600,"f":0.13},{"w":4606,"f":0.095},{"w":4612,"f":0.135},{"w":4618,"f":0.09},{"w":4624,"f":0.132},{"w":4630,"f":0.095},{"w":4636,"f":0.138},{"w":4642,"f":0.092},{"w":4648,"f":0.13},{"w":4654,"f":0.095},{"w":4660,"f":0.135},{"w":4666,"f":0.09},{"w":4672,"f":0.132},{"w":4678,"f":0.095},{"w":4684,"f":0.138},{"w":4690,"f":0.09},{"w":4696,"f":0.13},{"w":4702,"f":0.093},{"w":4708,"f":0.136},{"w":4714,"f":0.09},{"w":4720,"f":0.135},{"w":4726,"f":0.095},{"w":4732,"f":0.138},{"w":4738,"f":0.09},{"w":4744,"f":0.132},{"w":4750,"f":0.095},{"w":4756,"f":0.136},{"w":4762,"f":0.092},{"w":4768,"f":0.13},{"w":4774,"f":0.095},{"w":4780,"f":0.138},{"w":4786,"f":0.09},{"w":4792,"f":0.133},{"w":4798,"f":0.095},{"w":4804,"f":0.136},{"w":4810,"f":0.09},{"w":4816,"f":0.134},{"w":4822,"f":0.095},{"w":4828,"f":0.13},{"w":4834,"f":0.09},{"w":4840,"f":0.135},{"w":4846,"f":0.095},{"w":4852,"f":0.12},{"w":4857,"f":0.09},{"w":4861,"f":0.073},{"w":4866,"f":0.1},{"w":4872,"f":0.135},{"w":4878,"f":0.095},{"w":4884,"f":0.138},{"w":4890,"f":0.09},{"w":4896,"f":0.132},{"w":4902,"f":0.095},{"w":4908,"f":0.136},{"w":4914,"f":0.092},{"w":4920,"f":0.134},{"w":4926,"f":0.09},{"w":4932,"f":0.138},{"w":4938,"f":0.095},{"w":4944,"f":0.13},{"w":4950,"f":0.09},{"w":4956,"f":0.134},{"w":4962,"f":0.095},{"w":4968,"f":0.137},{"w":4974,"f":0.09},{"w":4980,"f":0.13},{"w":4986,"f":0.094},{"w":4992,"f":0.136},{"w":4998,"f":0.09},{"w":5004,"f":0.132},{"w":5010,"f":0.09},{"w":5016,"f":0.085},{"w":5022,"f":0.13},{"w":5028,"f":0.092},{"w":5034,"f":0.136},{"w":5040,"f":0.095},{"w":5046,"f":0.13},{"w":5052,"f":0.085},{"w":5058,"f":0.135},{"w":5064,"f":0.095},{"w":5070,"f":0.132},{"w":5076,"f":0.09},{"w":5082,"f":0.137},{"w":5088,"f":0.095},{"w":5094,"f":0.133},{"w":5100,"f":0.09},{"w":5106,"f":0.135},{"w":5112,"f":0.094},{"w":5118,"f":0.138},{"w":5124,"f":0.09},{"w":5130,"f":0.132},{"w":5136,"f":0.095},{"w":5142,"f":0.136},{"w":5148,"f":0.092},{"w":5154,"f":0.132},{"w":5160,"f":0.09},{"w":5166,"f":0.128},{"w":5172,"f":0.085},{"w":5178,"f":0.13},{"w":5184,"f":0.088},{"w":5190,"f":0.134},{"w":5196,"f":0.095},{"w":5202,"f":0.136},{"w":5208,"f":0.092},{"w":5214,"f":0.133},{"w":5220,"f":0.095},{"w":5226,"f":0.137},{"w":5232,"f":0.093},{"w":5238,"f":0.134},{"w":5244,"f":0.095},{"w":5250,"f":0.135},{"w":5256,"f":0.092},{"w":5262,"f":0.132},{"w":5268,"f":0.09},{"w":5274,"f":0.136},{"w":5280,"f":0.095},{"w":5286,"f":0.134},{"w":5292,"f":0.097},{"w":5298,"f":0.138},{"w":5304,"f":0.095},{"w":5310,"f":0.135},{"w":5316,"f":0.097},{"w":5322,"f":0.138},{"w":5328,"f":0.098},{"w":5334,"f":0.135},{"w":5340,"f":0.1},{"w":5346,"f":0.13},{"w":5352,"f":0.1}],
"g10":[{"w":3868,"f":0.105},{"w":3878,"f":0.095},{"w":3888,"f":0.09},{"w":3898,"f":0.085},{"w":3908,"f":0.08},{"w":3916,"f":0.065},{"w":3924,"f":0.04},{"w":3932,"f":0.02},{"w":3940,"f":0.06},{"w":3950,"f":0.085},{"w":3960,"f":0.06},{"w":3968,"f":0.02},{"w":3976,"f":0.06},{"w":3986,"f":0.09},{"w":3996,"f":0.097},{"w":4008,"f":0.1},{"w":4020,"f":0.102},{"w":4032,"f":0.1},{"w":4044,"f":0.103},{"w":4056,"f":0.1},{"w":4068,"f":0.102},{"w":4080,"f":0.1},{"w":4092,"f":0.095},{"w":4100,"f":0.06},{"w":4108,"f":0.095},{"w":4120,"f":0.103},{"w":4132,"f":0.102},{"w":4144,"f":0.104},{"w":4156,"f":0.101},{"w":4168,"f":0.105},{"w":4180,"f":0.102},{"w":4192,"f":0.104},{"w":4204,"f":0.1},{"w":4216,"f":0.103},{"w":4228,"f":0.1},{"w":4240,"f":0.103},{"w":4252,"f":0.1},{"w":4264,"f":0.102},{"w":4276,"f":0.098},{"w":4288,"f":0.095},{"w":4300,"f":0.088},{"w":4312,"f":0.095},{"w":4324,"f":0.098},{"w":4332,"f":0.085},{"w":4338,"f":0.054},{"w":4344,"f":0.085},{"w":4354,"f":0.102},{"w":4366,"f":0.105},{"w":4378,"f":0.1},{"w":4390,"f":0.107},{"w":4402,"f":0.105},{"w":4414,"f":0.108},{"w":4426,"f":0.106},{"w":4438,"f":0.109},{"w":4450,"f":0.107},{"w":4462,"f":0.11},{"w":4474,"f":0.108},{"w":4486,"f":0.11},{"w":4498,"f":0.108},{"w":4510,"f":0.111},{"w":4522,"f":0.109},{"w":4534,"f":0.112},{"w":4546,"f":0.11},{"w":4558,"f":0.112},{"w":4570,"f":0.11},{"w":4582,"f":0.113},{"w":4594,"f":0.111},{"w":4606,"f":0.113},{"w":4618,"f":0.11},{"w":4630,"f":0.113},{"w":4642,"f":0.111},{"w":4654,"f":0.114},{"w":4666,"f":0.111},{"w":4678,"f":0.114},{"w":4690,"f":0.112},{"w":4702,"f":0.114},{"w":4714,"f":0.112},{"w":4726,"f":0.115},{"w":4738,"f":0.112},{"w":4750,"f":0.115},{"w":4762,"f":0.113},{"w":4774,"f":0.115},{"w":4786,"f":0.112},{"w":4798,"f":0.115},{"w":4810,"f":0.113},{"w":4822,"f":0.115},{"w":4834,"f":0.112},{"w":4846,"f":0.108},{"w":4854,"f":0.1},{"w":4861,"f":0.073},{"w":4866,"f":0.1},{"w":4874,"f":0.113},{"w":4886,"f":0.115},{"w":4898,"f":0.112},{"w":4910,"f":0.115},{"w":4922,"f":0.112},{"w":4934,"f":0.115},{"w":4946,"f":0.113},{"w":4958,"f":0.115},{"w":4970,"f":0.112},{"w":4982,"f":0.114},{"w":4994,"f":0.112},{"w":5006,"f":0.113},{"w":5015,"f":0.105},{"w":5024,"f":0.113},{"w":5036,"f":0.115},{"w":5048,"f":0.112},{"w":5060,"f":0.114},{"w":5072,"f":0.112},{"w":5084,"f":0.115},{"w":5096,"f":0.112},{"w":5108,"f":0.114},{"w":5120,"f":0.112},{"w":5132,"f":0.114},{"w":5144,"f":0.11},{"w":5156,"f":0.112},{"w":5164,"f":0.105},{"w":5170,"f":0.098},{"w":5176,"f":0.104},{"w":5182,"f":0.098},{"w":5190,"f":0.112},{"w":5202,"f":0.114},{"w":5214,"f":0.112},{"w":5226,"f":0.114},{"w":5238,"f":0.111},{"w":5250,"f":0.113},{"w":5262,"f":0.11},{"w":5270,"f":0.104},{"w":5278,"f":0.112},{"w":5290,"f":0.114},{"w":5302,"f":0.115},{"w":5314,"f":0.114},{"w":5326,"f":0.115},{"w":5338,"f":0.116},{"w":5352,"f":0.115}],
"o11":[{"w":3868,"f":0.06},{"w":3874,"f":0.09},{"w":3880,"f":0.0},{"w":3886,"f":0.07},{"w":3892,"f":0.05},{"w":3898,"f":0.13},{"w":3904,"f":0.06},{"w":3910,"f":0.1},{"w":3916,"f":0.04},{"w":3922,"f":0.02},{"w":3928,"f":-0.01},{"w":3934,"f":0.04},{"w":3940,"f":0.1},{"w":3946,"f":0.06},{"w":3952,"f":0.12},{"w":3958,"f":0.05},{"w":3964,"f":0.01},{"w":3968,"f":-0.032},{"w":3974,"f":0.04},{"w":3980,"f":0.13},{"w":3986,"f":0.06},{"w":3992,"f":0.12},{"w":3998,"f":0.05},{"w":4004,"f":0.14},{"w":4010,"f":0.07},{"w":4016,"f":0.155},{"w":4022,"f":0.06},{"w":4028,"f":0.15},{"w":4034,"f":0.05},{"w":4040,"f":0.12},{"w":4046,"f":0.03},{"w":4052,"f":0.13},{"w":4058,"f":0.05},{"w":4064,"f":0.14},{"w":4070,"f":0.06},{"w":4076,"f":0.12},{"w":4082,"f":0.04},{"w":4088,"f":0.11},{"w":4094,"f":0.05},{"w":4100,"f":0.03},{"w":4106,"f":0.09},{"w":4112,"f":0.05},{"w":4118,"f":0.12},{"w":4124,"f":0.07},{"w":4130,"f":0.11},{"w":4136,"f":0.05},{"w":4142,"f":0.125},{"w":4148,"f":0.06},{"w":4154,"f":0.12},{"w":4160,"f":0.07},{"w":4166,"f":0.13},{"w":4172,"f":0.06},{"w":4178,"f":0.11},{"w":4184,"f":0.05},{"w":4190,"f":0.12},{"w":4196,"f":0.06},{"w":4202,"f":0.125},{"w":4208,"f":0.04},{"w":4214,"f":0.11},{"w":4220,"f":0.06},{"w":4226,"f":0.15},{"w":4232,"f":0.07},{"w":4238,"f":0.12},{"w":4244,"f":0.05},{"w":4250,"f":0.11},{"w":4256,"f":0.06},{"w":4262,"f":0.12},{"w":4268,"f":0.04},{"w":4274,"f":0.11},{"w":4280,"f":0.07},{"w":4286,"f":0.125},{"w":4292,"f":0.05},{"w":4298,"f":0.1},{"w":4304,"f":0.04},{"w":4310,"f":0.11},{"w":4316,"f":0.06},{"w":4322,"f":0.12},{"w":4328,"f":0.05},{"w":4334,"f":0.1},{"w":4340,"f":0.06},{"w":4346,"f":0.12},{"w":4352,"f":0.07},{"w":4358,"f":0.12},{"w":4364,"f":0.169},{"w":4370,"f":0.06},{"w":4376,"f":0.1},{"w":4382,"f":0.015},{"w":4388,"f":0.1},{"w":4394,"f":0.07},{"w":4400,"f":0.13},{"w":4406,"f":0.07},{"w":4412,"f":0.12},{"w":4418,"f":0.06},{"w":4424,"f":0.125},{"w":4430,"f":0.07},{"w":4436,"f":0.13},{"w":4442,"f":0.065},{"w":4448,"f":0.12},{"w":4454,"f":0.07},{"w":4460,"f":0.135},{"w":4466,"f":0.065},{"w":4472,"f":0.125},{"w":4478,"f":0.07},{"w":4484,"f":0.13},{"w":4490,"f":0.06},{"w":4496,"f":0.12},{"w":4502,"f":0.07},{"w":4508,"f":0.135},{"w":4514,"f":0.07},{"w":4520,"f":0.13},{"w":4526,"f":0.065},{"w":4532,"f":0.125},{"w":4538,"f":0.075},{"w":4546,"f":0.13},{"w":4554,"f":0.07},{"w":4562,"f":0.135},{"w":4570,"f":0.08},{"w":4578,"f":0.13},{"w":4586,"f":0.07},{"w":4594,"f":0.14},{"w":4602,"f":0.075},{"w":4610,"f":0.128},{"w":4618,"f":0.08},{"w":4626,"f":0.135},{"w":4634,"f":0.07},{"w":4642,"f":0.13},{"w":4650,"f":0.078},{"w":4658,"f":0.138},{"w":4666,"f":0.075},{"w":4674,"f":0.13},{"w":4682,"f":0.08},{"w":4690,"f":0.136},{"w":4698,"f":0.072},{"w":4706,"f":0.13},{"w":4714,"f":0.08},{"w":4722,"f":0.14},{"w":4730,"f":0.075},{"w":4738,"f":0.132},{"w":4746,"f":0.08},{"w":4754,"f":0.137},{"w":4762,"f":0.075},{"w":4770,"f":0.13},{"w":4778,"f":0.08},{"w":4786,"f":0.14},{"w":4794,"f":0.072},{"w":4802,"f":0.132},{"w":4810,"f":0.078},{"w":4818,"f":0.135},{"w":4826,"f":0.075},{"w":4834,"f":0.13},{"w":4842,"f":0.08},{"w":4850,"f":0.12},{"w":4856,"f":0.08},{"w":4861,"f":0.065},{"w":4866,"f":0.09},{"w":4872,"f":0.13},{"w":4880,"f":0.08},{"w":4888,"f":0.136},{"w":4896,"f":0.075},{"w":4904,"f":0.13},{"w":4912,"f":0.08},{"w":4920,"f":0.138},{"w":4928,"f":0.075},{"w":4936,"f":0.132},{"w":4944,"f":0.08},{"w":4952,"f":0.146},{"w":4960,"f":0.078},{"w":4968,"f":0.135},{"w":4976,"f":0.072},{"w":4984,"f":0.13},{"w":4992,"f":0.078},{"w":5000,"f":0.138},{"w":5008,"f":0.075},{"w":5016,"f":0.07},{"w":5024,"f":0.13},{"w":5032,"f":0.078},{"w":5040,"f":0.135},{"w":5048,"f":0.075},{"w":5056,"f":0.14},{"w":5064,"f":0.08},{"w":5072,"f":0.132},{"w":5080,"f":0.075},{"w":5088,"f":0.136},{"w":5096,"f":0.072},{"w":5104,"f":0.13},{"w":5112,"f":0.08},{"w":5120,"f":0.138},{"w":5128,"f":0.075},{"w":5136,"f":0.13},{"w":5144,"f":0.078},{"w":5152,"f":0.135},{"w":5160,"f":0.075},{"w":5166,"f":0.13},{"w":5172,"f":0.068},{"w":5178,"f":0.12},{"w":5184,"f":0.075},{"w":5192,"f":0.136},{"w":5200,"f":0.08},{"w":5208,"f":0.132},{"w":5216,"f":0.075},{"w":5224,"f":0.14},{"w":5232,"f":0.078},{"w":5240,"f":0.134},{"w":5248,"f":0.075},{"w":5256,"f":0.138},{"w":5264,"f":0.08},{"w":5270,"f":0.07},{"w":5276,"f":0.13},{"w":5284,"f":0.078},{"w":5292,"f":0.14},{"w":5300,"f":0.08},{"w":5308,"f":0.136},{"w":5316,"f":0.078},{"w":5324,"f":0.14},{"w":5332,"f":0.08},{"w":5340,"f":0.135},{"w":5346,"f":0.085},{"w":5352,"f":0.13}],
"g11":[{"w":3868,"f":0.075},{"w":3876,"f":0.08},{"w":3884,"f":0.07},{"w":3892,"f":0.078},{"w":3900,"f":0.075},{"w":3910,"f":0.07},{"w":3918,"f":0.05},{"w":3926,"f":0.02},{"w":3932,"f":0.005},{"w":3940,"f":0.05},{"w":3950,"f":0.075},{"w":3960,"f":0.05},{"w":3968,"f":-0.005},{"w":3976,"f":0.05},{"w":3986,"f":0.08},{"w":3998,"f":0.085},{"w":4010,"f":0.088},{"w":4022,"f":0.085},{"w":4034,"f":0.088},{"w":4046,"f":0.085},{"w":4058,"f":0.09},{"w":4070,"f":0.087},{"w":4082,"f":0.09},{"w":4092,"f":0.08},{"w":4100,"f":0.046},{"w":4108,"f":0.08},{"w":4120,"f":0.088},{"w":4132,"f":0.09},{"w":4144,"f":0.088},{"w":4156,"f":0.09},{"w":4168,"f":0.087},{"w":4180,"f":0.09},{"w":4192,"f":0.088},{"w":4204,"f":0.09},{"w":4216,"f":0.087},{"w":4228,"f":0.09},{"w":4240,"f":0.088},{"w":4252,"f":0.09},{"w":4264,"f":0.087},{"w":4276,"f":0.088},{"w":4288,"f":0.085},{"w":4300,"f":0.078},{"w":4310,"f":0.085},{"w":4322,"f":0.088},{"w":4332,"f":0.08},{"w":4340,"f":0.065},{"w":4346,"f":0.085},{"w":4356,"f":0.09},{"w":4368,"f":0.092},{"w":4380,"f":0.09},{"w":4392,"f":0.094},{"w":4404,"f":0.092},{"w":4416,"f":0.095},{"w":4428,"f":0.096},{"w":4440,"f":0.097},{"w":4452,"f":0.096},{"w":4464,"f":0.098},{"w":4476,"f":0.097},{"w":4488,"f":0.099},{"w":4500,"f":0.098},{"w":4512,"f":0.1},{"w":4524,"f":0.099},{"w":4536,"f":0.1},{"w":4548,"f":0.101},{"w":4560,"f":0.1},{"w":4572,"f":0.102},{"w":4584,"f":0.101},{"w":4596,"f":0.103},{"w":4608,"f":0.102},{"w":4620,"f":0.103},{"w":4632,"f":0.102},{"w":4644,"f":0.104},{"w":4656,"f":0.103},{"w":4668,"f":0.104},{"w":4680,"f":0.103},{"w":4692,"f":0.105},{"w":4704,"f":0.104},{"w":4716,"f":0.105},{"w":4728,"f":0.104},{"w":4740,"f":0.106},{"w":4752,"f":0.105},{"w":4764,"f":0.106},{"w":4776,"f":0.104},{"w":4788,"f":0.106},{"w":4800,"f":0.105},{"w":4812,"f":0.106},{"w":4824,"f":0.105},{"w":4836,"f":0.104},{"w":4846,"f":0.1},{"w":4854,"f":0.092},{"w":4861,"f":0.07},{"w":4866,"f":0.092},{"w":4874,"f":0.104},{"w":4886,"f":0.106},{"w":4898,"f":0.105},{"w":4910,"f":0.107},{"w":4922,"f":0.105},{"w":4934,"f":0.107},{"w":4946,"f":0.106},{"w":4958,"f":0.107},{"w":4970,"f":0.105},{"w":4982,"f":0.107},{"w":4994,"f":0.106},{"w":5006,"f":0.105},{"w":5015,"f":0.098},{"w":5024,"f":0.105},{"w":5036,"f":0.107},{"w":5048,"f":0.106},{"w":5060,"f":0.107},{"w":5072,"f":0.105},{"w":5084,"f":0.107},{"w":5096,"f":0.106},{"w":5108,"f":0.107},{"w":5120,"f":0.106},{"w":5132,"f":0.107},{"w":5144,"f":0.105},{"w":5156,"f":0.106},{"w":5164,"f":0.1},{"w":5170,"f":0.088},{"w":5176,"f":0.1},{"w":5182,"f":0.09},{"w":5190,"f":0.105},{"w":5202,"f":0.107},{"w":5214,"f":0.106},{"w":5226,"f":0.108},{"w":5238,"f":0.106},{"w":5250,"f":0.107},{"w":5262,"f":0.105},{"w":5270,"f":0.098},{"w":5278,"f":0.106},{"w":5290,"f":0.108},{"w":5302,"f":0.107},{"w":5314,"f":0.108},{"w":5326,"f":0.107},{"w":5338,"f":0.108},{"w":5352,"f":0.108}]
},
"vconcat":[
{"width":524,"height":113,"encoding":{"x":{"field":"w","type":"quantitative","scale":{"domain":[3848,5352],"nice":false,"zero":false},"axis":null}},"layer":[
{"data":{"name":"lines"},"mark":{"type":"rule","color":"#4f6075","strokeDash":[5,3],"strokeWidth":1.1},"encoding":{}},
{"data":{"name":"o1"},"mark":{"type":"line","color":"#000","strokeWidth":2.8,"strokeJoin":"round","clip":true},"encoding":{"y":{"field":"f","type":"quantitative","scale":{"domain":[-127,50],"nice":false,"zero":false},"axis":{"values":[-100,0],"format":"d","title":null}}}},
{"data":{"name":"g1"},"mark":{"type":"line","color":"#86e58c","strokeWidth":1.8,"strokeJoin":"round","clip":true},"encoding":{"y":{"field":"f","type":"quantitative","scale":{"domain":[-127,50],"nice":false,"zero":false},"axis":{"values":[-100,0],"format":"d","title":null}}}},
{"data":{"name":"t1"},"mark":{"type":"text","fontWeight":"bold","fontSize":18,"color":"#111","align":"center","baseline":"middle"},"encoding":{"y":{"field":"f","type":"quantitative","scale":{"domain":[-127,50],"nice":false,"zero":false},"axis":{"values":[-100,0],"format":"d","title":null}},"text":{"field":"t"}}}
]},
{"width":524,"height":113,"encoding":{"x":{"field":"w","type":"quantitative","scale":{"domain":[3848,5352],"nice":false,"zero":false},"axis":null}},"layer":[
{"data":{"name":"lines"},"mark":{"type":"rule","color":"#4f6075","strokeDash":[5,3],"strokeWidth":1.1},"encoding":{}},
{"data":{"name":"o2"},"mark":{"type":"line","color":"#000","strokeWidth":2.8,"strokeJoin":"round","clip":true},"encoding":{"y":{"field":"f","type":"quantitative","scale":{"domain":[-0.271,0.267],"nice":false,"zero":false},"axis":{"values":[-0.2,0,0.2],"format":".1f","title":null}}}},
{"data":{"name":"g2"},"mark":{"type":"line","color":"#86e58c","strokeWidth":1.8,"strokeJoin":"round","clip":true},"encoding":{"y":{"field":"f","type":"quantitative","scale":{"domain":[-0.271,0.267],"nice":false,"zero":false},"axis":{"values":[-0.2,0,0.2],"format":".1f","title":null}}}},
{"data":{"name":"t2"},"mark":{"type":"text","fontWeight":"bold","fontSize":18,"color":"#111","align":"center","baseline":"middle"},"encoding":{"y":{"field":"f","type":"quantitative","scale":{"domain":[-0.271,0.267],"nice":false,"zero":false},"axis":{"values":[-0.2,0,0.2],"format":".1f","title":null}},"text":{"field":"t"}}}
]},
{"width":524,"height":113,"encoding":{"x":{"field":"w","type":"quantitative","scale":{"domain":[3848,5352],"nice":false,"zero":false},"axis":null}},"layer":[
{"data":{"name":"lines"},"mark":{"type":"rule","color":"#4f6075","strokeDash":[5,3],"strokeWidth":1.1},"encoding":{}},
{"data":{"name":"o3"},"mark":{"type":"line","color":"#000","strokeWidth":2.8,"strokeJoin":"round","clip":true},"encoding":{"y":{"field":"f","type":"quantitative","scale":{"domain":[-0.507,0.237],"nice":false,"zero":false},"axis":{"values":[-0.25,0],"format":".2f","title":null}}}},
{"data":{"name":"g3"},"mark":{"type":"line","color":"#86e58c","strokeWidth":1.8,"strokeJoin":"round","clip":true},"encoding":{"y":{"field":"f","type":"quantitative","scale":{"domain":[-0.507,0.237],"nice":false,"zero":false},"axis":{"values":[-0.25,0],"format":".2f","title":null}}}},
{"data":{"name":"t3"},"mark":{"type":"text","fontWeight":"bold","fontSize":18,"color":"#111","align":"center","baseline":"middle"},"encoding":{"y":{"field":"f","type":"quantitative","scale":{"domain":[-0.507,0.237],"nice":false,"zero":false},"axis":{"values":[-0.25,0],"format":".2f","title":null}},"text":{"field":"t"}}}
]},
{"width":524,"height":113,"encoding":{"x":{"field":"w","type":"quantitative","scale":{"domain":[3848,5352],"nice":false,"zero":false},"axis":null}},"layer":[
{"data":{"name":"bands"},"transform":[{"filter":"datum.p==4"}],"mark":{"type":"rect","color":"#c9cfd6"},"encoding":{"x2":{"field":"w2"}}},
{"data":{"name":"lines"},"mark":{"type":"rule","color":"#4f6075","strokeDash":[5,3],"strokeWidth":1.1},"encoding":{}},
{"data":{"name":"o4"},"mark":{"type":"line","color":"#000","strokeWidth":2.8,"strokeJoin":"round","clip":true},"encoding":{"y":{"field":"f","type":"quantitative","scale":{"domain":[0.159,0.39],"nice":false,"zero":false},"axis":{"values":[0.2,0.3],"format":".1f","title":null}}}},
{"data":{"name":"g4"},"mark":{"type":"line","color":"#86e58c","strokeWidth":1.8,"strokeJoin":"round","clip":true},"encoding":{"y":{"field":"f","type":"quantitative","scale":{"domain":[0.159,0.39],"nice":false,"zero":false},"axis":{"values":[0.2,0.3],"format":".1f","title":null}}}},
{"data":{"name":"t4"},"mark":{"type":"text","fontWeight":"bold","fontSize":18,"color":"#111","align":"center","baseline":"middle"},"encoding":{"y":{"field":"f","type":"quantitative","scale":{"domain":[0.159,0.39],"nice":false,"zero":false},"axis":{"values":[0.2,0.3],"format":".1f","title":null}},"text":{"field":"t"}}}
]},
{"width":524,"height":113,"encoding":{"x":{"field":"w","type":"quantitative","scale":{"domain":[3848,5352],"nice":false,"zero":false},"axis":null}},"layer":[
{"data":{"name":"bands"},"transform":[{"filter":"datum.p==5"}],"mark":{"type":"rect","color":"#c9cfd6"},"encoding":{"x2":{"field":"w2"}}},
{"data":{"name":"lines"},"mark":{"type":"rule","color":"#4f6075","strokeDash":[5,3],"strokeWidth":1.1},"encoding":{}},
{"data":{"name":"o5"},"mark":{"type":"line","color":"#000","strokeWidth":2.8,"strokeJoin":"round","clip":true},"encoding":{"y":{"field":"f","type":"quantitative","scale":{"domain":[-0.449,0.276],"nice":false,"zero":false},"axis":{"values":[-0.25,0],"format":".2f","title":null}}}},
{"data":{"name":"g5"},"mark":{"type":"line","color":"#86e58c","strokeWidth":1.8,"strokeJoin":"round","clip":true},"encoding":{"y":{"field":"f","type":"quantitative","scale":{"domain":[-0.449,0.276],"nice":false,"zero":false},"axis":{"values":[-0.25,0],"format":".2f","title":null}}}},
{"data":{"name":"t5"},"mark":{"type":"text","fontWeight":"bold","fontSize":18,"color":"#111","align":"center","baseline":"middle"},"encoding":{"y":{"field":"f","type":"quantitative","scale":{"domain":[-0.449,0.276],"nice":false,"zero":false},"axis":{"values":[-0.25,0],"format":".2f","title":null}},"text":{"field":"t"}}}
]},
{"width":524,"height":113,"encoding":{"x":{"field":"w","type":"quantitative","scale":{"domain":[3848,5352],"nice":false,"zero":false},"axis":null}},"layer":[
{"data":{"name":"bands"},"transform":[{"filter":"datum.p==6"}],"mark":{"type":"rect","color":"#c9cfd6"},"encoding":{"x2":{"field":"w2"}}},
{"data":{"name":"lines"},"mark":{"type":"rule","color":"#4f6075","strokeDash":[5,3],"strokeWidth":1.1},"encoding":{}},
{"data":{"name":"o6"},"mark":{"type":"line","color":"#000","strokeWidth":2.8,"strokeJoin":"round","clip":true},"encoding":{"y":{"field":"f","type":"quantitative","scale":{"domain":[-0.0077,0.282],"nice":false,"zero":false},"axis":{"values":[0.1,0.2],"format":".1f","title":"Normalized Flux","titleX":-78,"titleY":81,"titleBaseline":"bottom"}}}},
{"data":{"name":"g6"},"mark":{"type":"line","color":"#86e58c","strokeWidth":1.8,"strokeJoin":"round","clip":true},"encoding":{"y":{"field":"f","type":"quantitative","scale":{"domain":[-0.0077,0.282],"nice":false,"zero":false},"axis":{"values":[0.1,0.2],"format":".1f","title":"Normalized Flux","titleX":-78,"titleY":81,"titleBaseline":"bottom"}}}},
{"data":{"name":"t6"},"mark":{"type":"text","fontWeight":"bold","fontSize":18,"color":"#111","align":"center","baseline":"middle"},"encoding":{"y":{"field":"f","type":"quantitative","scale":{"domain":[-0.0077,0.282],"nice":false,"zero":false},"axis":{"values":[0.1,0.2],"format":".1f","title":"Normalized Flux","titleX":-78,"titleY":81,"titleBaseline":"bottom"}},"text":{"field":"t"}}}
]},
{"width":524,"height":113,"encoding":{"x":{"field":"w","type":"quantitative","scale":{"domain":[3848,5352],"nice":false,"zero":false},"axis":null}},"layer":[
{"data":{"name":"bands"},"transform":[{"filter":"datum.p==7"}],"mark":{"type":"rect","color":"#c9cfd6"},"encoding":{"x2":{"field":"w2"}}},
{"data":{"name":"lines"},"mark":{"type":"rule","color":"#4f6075","strokeDash":[5,3],"strokeWidth":1.1},"encoding":{}},
{"data":{"name":"o7"},"mark":{"type":"line","color":"#000","strokeWidth":2.8,"strokeJoin":"round","clip":true},"encoding":{"y":{"field":"f","type":"quantitative","scale":{"domain":[0.0416,0.1777],"nice":false,"zero":false},"axis":{"values":[0.05,0.1,0.15],"format":".2f","title":null}}}},
{"data":{"name":"g7"},"mark":{"type":"line","color":"#86e58c","strokeWidth":1.8,"strokeJoin":"round","clip":true},"encoding":{"y":{"field":"f","type":"quantitative","scale":{"domain":[0.0416,0.1777],"nice":false,"zero":false},"axis":{"values":[0.05,0.1,0.15],"format":".2f","title":null}}}},
{"data":{"name":"t7"},"mark":{"type":"text","fontWeight":"bold","fontSize":18,"color":"#111","align":"center","baseline":"middle"},"encoding":{"y":{"field":"f","type":"quantitative","scale":{"domain":[0.0416,0.1777],"nice":false,"zero":false},"axis":{"values":[0.05,0.1,0.15],"format":".2f","title":null}},"text":{"field":"t"}}}
]},
{"width":524,"height":113,"encoding":{"x":{"field":"w","type":"quantitative","scale":{"domain":[3848,5352],"nice":false,"zero":false},"axis":null}},"layer":[
{"data":{"name":"bands"},"transform":[{"filter":"datum.p==8"}],"mark":{"type":"rect","color":"#c9cfd6"},"encoding":{"x2":{"field":"w2"}}},
{"data":{"name":"lines"},"mark":{"type":"rule","color":"#4f6075","strokeDash":[5,3],"strokeWidth":1.1},"encoding":{}},
{"data":{"name":"o8"},"mark":{"type":"line","color":"#000","strokeWidth":2.8,"strokeJoin":"round","clip":true},"encoding":{"y":{"field":"f","type":"quantitative","scale":{"domain":[-0.334,0.399],"nice":false,"zero":false},"axis":{"values":[-0.25,0,0.25],"format":".2f","title":null}}}},
{"data":{"name":"g8"},"mark":{"type":"line","color":"#86e58c","strokeWidth":1.8,"strokeJoin":"round","clip":true},"encoding":{"y":{"field":"f","type":"quantitative","scale":{"domain":[-0.334,0.399],"nice":false,"zero":false},"axis":{"values":[-0.25,0,0.25],"format":".2f","title":null}}}},
{"data":{"name":"t8"},"mark":{"type":"text","fontWeight":"bold","fontSize":18,"color":"#111","align":"center","baseline":"middle"},"encoding":{"y":{"field":"f","type":"quantitative","scale":{"domain":[-0.334,0.399],"nice":false,"zero":false},"axis":{"values":[-0.25,0,0.25],"format":".2f","title":null}},"text":{"field":"t"}}}
]},
{"width":524,"height":113,"encoding":{"x":{"field":"w","type":"quantitative","scale":{"domain":[3848,5352],"nice":false,"zero":false},"axis":null}},"layer":[
{"data":{"name":"bands"},"transform":[{"filter":"datum.p==9"}],"mark":{"type":"rect","color":"#c9cfd6"},"encoding":{"x2":{"field":"w2"}}},
{"data":{"name":"lines"},"mark":{"type":"rule","color":"#4f6075","strokeDash":[5,3],"strokeWidth":1.1},"encoding":{}},
{"data":{"name":"o9"},"mark":{"type":"line","color":"#000","strokeWidth":2.8,"strokeJoin":"round","clip":true},"encoding":{"y":{"field":"f","type":"quantitative","scale":{"domain":[0.0506,0.1064],"nice":false,"zero":false},"axis":{"values":[0.06,0.08,0.1],"format":".2f","title":null}}}},
{"data":{"name":"g9"},"mark":{"type":"line","color":"#86e58c","strokeWidth":1.8,"strokeJoin":"round","clip":true},"encoding":{"y":{"field":"f","type":"quantitative","scale":{"domain":[0.0506,0.1064],"nice":false,"zero":false},"axis":{"values":[0.06,0.08,0.1],"format":".2f","title":null}}}},
{"data":{"name":"t9"},"mark":{"type":"text","fontWeight":"bold","fontSize":18,"color":"#111","align":"center","baseline":"middle"},"encoding":{"y":{"field":"f","type":"quantitative","scale":{"domain":[0.0506,0.1064],"nice":false,"zero":false},"axis":{"values":[0.06,0.08,0.1],"format":".2f","title":null}},"text":{"field":"t"}}}
]},
{"width":524,"height":113,"encoding":{"x":{"field":"w","type":"quantitative","scale":{"domain":[3848,5352],"nice":false,"zero":false},"axis":null}},"layer":[
{"data":{"name":"bands"},"transform":[{"filter":"datum.p==10"}],"mark":{"type":"rect","color":"#c9cfd6"},"encoding":{"x2":{"field":"w2"}}},
{"data":{"name":"lines"},"mark":{"type":"rule","color":"#4f6075","strokeDash":[5,3],"strokeWidth":1.1},"encoding":{}},
{"data":{"name":"o10"},"mark":{"type":"line","color":"#000","strokeWidth":2.8,"strokeJoin":"round","clip":true},"encoding":{"y":{"field":"f","type":"quantitative","scale":{"domain":[0.0051,0.15],"nice":false,"zero":false},"axis":{"values":[0.05,0.1],"format":".2f","title":null}}}},
{"data":{"name":"g10"},"mark":{"type":"line","color":"#86e58c","strokeWidth":1.8,"strokeJoin":"round","clip":true},"encoding":{"y":{"field":"f","type":"quantitative","scale":{"domain":[0.0051,0.15],"nice":false,"zero":false},"axis":{"values":[0.05,0.1],"format":".2f","title":null}}}},
{"data":{"name":"t10"},"mark":{"type":"text","fontWeight":"bold","fontSize":18,"color":"#111","align":"center","baseline":"middle"},"encoding":{"y":{"field":"f","type":"quantitative","scale":{"domain":[0.0051,0.15],"nice":false,"zero":false},"axis":{"values":[0.05,0.1],"format":".2f","title":null}},"text":{"field":"t"}}}
]},
{"width":524,"height":113,"encoding":{"x":{"field":"w","type":"quantitative","scale":{"domain":[3848,5352],"nice":false,"zero":false},"axis":{"values":[4000,4200,4400,4600,4800,5000,5200],"format":"d","title":"Wavelength (Å)","titleX":253,"titlePadding":16}}},"layer":[
{"data":{"name":"bands"},"transform":[{"filter":"datum.p==11"}],"mark":{"type":"rect","color":"#c9cfd6"},"encoding":{"x2":{"field":"w2"}}},
{"data":{"name":"lines"},"mark":{"type":"rule","color":"#4f6075","strokeDash":[5,3],"strokeWidth":1.1},"encoding":{}},
{"data":{"name":"o11"},"mark":{"type":"line","color":"#000","strokeWidth":2.8,"strokeJoin":"round","clip":true},"encoding":{"y":{"field":"f","type":"quantitative","scale":{"domain":[-0.0404,0.177],"nice":false,"zero":false},"axis":{"values":[0,0.1],"format":".1f","title":null}}}},
{"data":{"name":"g11"},"mark":{"type":"line","color":"#86e58c","strokeWidth":1.8,"strokeJoin":"round","clip":true},"encoding":{"y":{"field":"f","type":"quantitative","scale":{"domain":[-0.0404,0.177],"nice":false,"zero":false},"axis":{"values":[0,0.1],"format":".1f","title":null}}}},
{"data":{"name":"t11"},"mark":{"type":"text","fontWeight":"bold","fontSize":18,"color":"#111","align":"center","baseline":"middle"},"encoding":{"y":{"field":"f","type":"quantitative","scale":{"domain":[-0.0404,0.177],"nice":false,"zero":false},"axis":{"values":[0,0.1],"format":".1f","title":null}},"text":{"field":"t"}}}
]}
]
}
